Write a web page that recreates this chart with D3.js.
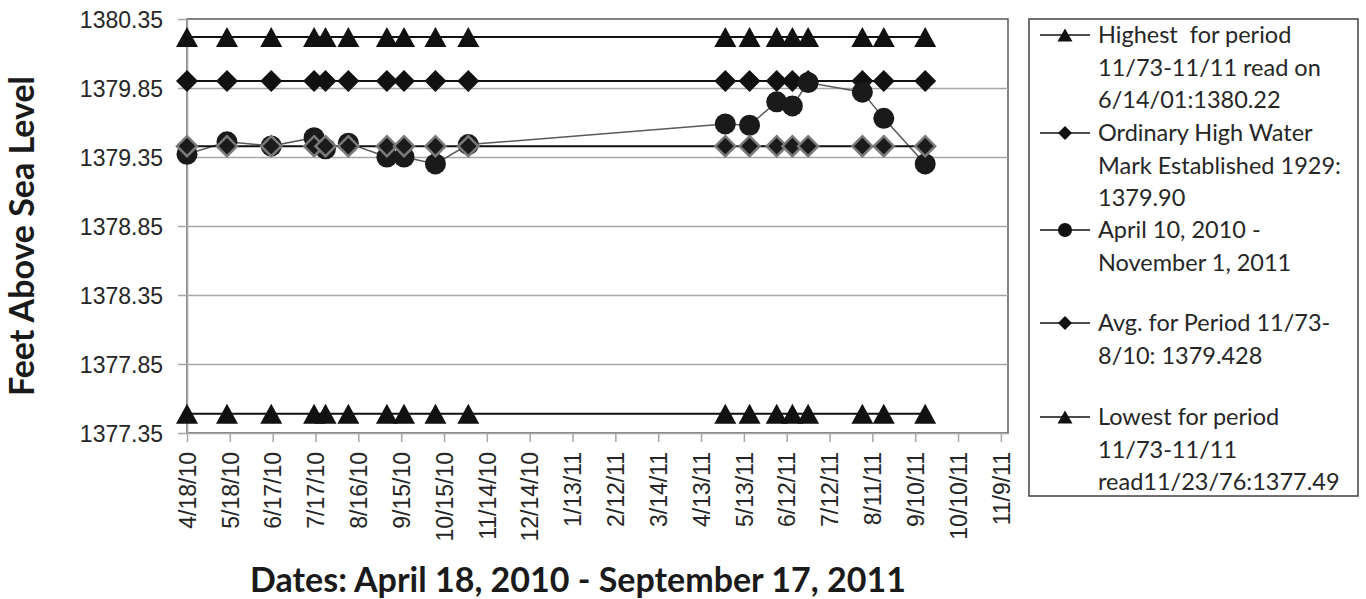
<!DOCTYPE html>
<html>
<head>
<meta charset="utf-8">
<script src="https://cdn.jsdelivr.net/npm/d3@7"></script>
<style>
  html, body { margin: 0; padding: 0; background: #fff; }
  svg { display: block; font-family: Lato, "Open Sans", sans-serif; }
  .tick text { fill: #262626; }
</style>
</head>
<body>
<div id="chart"></div>
<script>
// reading dates (M/D/YY) shared by every series
const readingDates = ['4/18/10', '5/16/10', '6/16/10', '7/16/10', '7/24/10', '8/9/10', '9/5/10', '9/17/10', '10/9/10', '11/1/10',
  '4/30/11', '5/17/11', '6/5/11', '6/16/11', '6/27/11', '8/4/11', '8/19/11', '9/17/11'];

const highest = [1380.22, 1380.22, 1380.22, 1380.22, 1380.22, 1380.22, 1380.22, 1380.22, 1380.22, 1380.22,
  1380.22, 1380.22, 1380.22, 1380.22, 1380.22, 1380.22, 1380.22, 1380.22];
const ordinaryHigh = [1379.90, 1379.90, 1379.90, 1379.90, 1379.90, 1379.90, 1379.90, 1379.90, 1379.90, 1379.90,
  1379.90, 1379.90, 1379.90, 1379.90, 1379.90, 1379.90, 1379.90, 1379.90];
const readings = [1379.37, 1379.46, 1379.43, 1379.49, 1379.41, 1379.45, 1379.35, 1379.35, 1379.30, 1379.44,
  1379.59, 1379.58, 1379.75, 1379.72, 1379.89, 1379.82, 1379.63, 1379.30];
const average = [1379.428, 1379.428, 1379.428, 1379.428, 1379.428, 1379.428, 1379.428, 1379.428, 1379.428, 1379.428,
  1379.428, 1379.428, 1379.428, 1379.428, 1379.428, 1379.428, 1379.428, 1379.428];
const lowest = [1377.49, 1377.49, 1377.49, 1377.49, 1377.49, 1377.49, 1377.49, 1377.49, 1377.49, 1377.49,
  1377.49, 1377.49, 1377.49, 1377.49, 1377.49, 1377.49, 1377.49, 1377.49];

// axis ticks
const xTickLabels = ['4/18/10', '5/18/10', '6/17/10', '7/17/10', '8/16/10', '9/15/10', '10/15/10', '11/14/10', '12/14/10', '1/13/11',
  '2/12/11', '3/14/11', '4/13/11', '5/13/11', '6/12/11', '7/12/11', '8/11/11', '9/10/11', '10/10/11', '11/9/11'];
const xDomainLabels = ['4/18/10', '11/14/11'];
const yTickValues = [1377.35, 1377.85, 1378.35, 1378.85, 1379.35, 1379.85, 1380.35];

const legendLabels = [
  ['Highest  for period', '11/73-11/11 read on', '6/14/01:1380.22'],
  ['Ordinary High Water', 'Mark Established 1929:', '1379.90'],
  ['April 10, 2010 -', 'November 1, 2011'],
  ['Avg. for Period 11/73-', '8/10: 1379.428'],
  ['Lowest for period', '11/73-11/11', 'read11/23/76:1377.49'],
];

const parseDate = d3.timeParse('%m/%d/%y');

function triPath(w, h) {
  return `M0,${-h / 2}L${w / 2},${h / 2}L${-w / 2},${h / 2}Z`;
}
function diamondPath(r) {
  return `M0,${-r}L${r},0L0,${r}L${-r},0Z`;
}

const seriesList = [
  { values: highest, marker: 'tri', line: '#111', lineWidth: 2, fill: '#111', stroke: 'none' },
  { values: ordinaryHigh, marker: 'diamond', line: '#111', lineWidth: 2, fill: '#111', stroke: 'none' },
  { values: readings, marker: 'circle', line: '#595959', lineWidth: 1.5, fill: '#1a1a1a', stroke: 'none' },
  { values: average, marker: 'avg', line: '#111', lineWidth: 2, fill: '#1a1a1a', stroke: '#7a7a7a' },
  { values: lowest, marker: 'tri', line: '#111', lineWidth: 2, fill: '#111', stroke: 'none' },
];

function drawMarker(sel, kind, big) {
  if (kind === 'circle') {
    sel.append('circle').attr('r', big ? 10.5 : 7);
  } else if (kind === 'tri') {
    sel.append('path').attr('d', big ? triPath(22, 20) : triPath(15, 13));
  } else if (kind === 'diamond') {
    sel.append('path').attr('d', diamondPath(big ? 11 : 7));
  } else {
    sel.append('path').attr('d', diamondPath(big ? 10 : 7));
  }
}

function createChart() {
  const width = 1366;
  const height = 599;
  const plot = { left: 187, right: 1008, top: 19, bottom: 433 };

  const svg = d3.select('#chart').append('svg')
    .attr('width', width)
    .attr('height', height);

  const xScale = d3.scaleTime()
    .domain(xDomainLabels.map(parseDate))
    .range([plot.left, plot.right]);

  const yScale = d3.scaleLinear()
    .domain([yTickValues[0], yTickValues[yTickValues.length - 1]])
    .range([plot.bottom, plot.top]);

  // plot frame
  svg.append('rect')
    .attr('x', plot.left).attr('y', plot.top)
    .attr('width', plot.right - plot.left).attr('height', plot.bottom - plot.top)
    .attr('fill', 'none').attr('stroke', '#595959').attr('stroke-width', 1.5);

  // gridlines
  const grid = svg.append('g').attr('transform', `translate(${plot.left},0)`)
    .call(d3.axisLeft(yScale).tickValues(yTickValues.slice(1, -1)).tickFormat('').tickSize(-(plot.right - plot.left)));
  grid.select('.domain').remove();
  grid.selectAll('line').attr('stroke', '#a6a6a6').attr('stroke-width', 1.5);

  // y axis
  const yAxis = svg.append('g').attr('transform', `translate(${plot.left},0)`)
    .call(d3.axisLeft(yScale).tickValues(yTickValues).tickFormat(d3.format('.2f')).tickSize(9).tickSizeOuter(0).tickPadding(15));
  yAxis.select('.domain').attr('stroke', '#a6a6a6').attr('stroke-width', 1.5);
  yAxis.selectAll('line').attr('stroke', '#a6a6a6').attr('stroke-width', 1.5);
  yAxis.selectAll('text').style('font-size', '23px').attr('dy', '0.36em');

  // x axis
  const xAxis = svg.append('g').attr('transform', `translate(0,${plot.bottom})`)
    .call(d3.axisBottom(xScale).tickValues(xTickLabels.map(parseDate)).tickFormat(d3.timeFormat('%-m/%-d/%y')).tickSize(9).tickSizeOuter(0));
  xAxis.select('.domain').attr('stroke', '#a6a6a6').attr('stroke-width', 1.5);
  xAxis.selectAll('line').attr('stroke', '#a6a6a6').attr('stroke-width', 1.5);
  xAxis.selectAll('text')
    .style('font-size', '23px')
    .style('text-anchor', 'end')
    .attr('transform', 'rotate(-90)')
    .attr('x', -19)
    .attr('y', 0)
    .attr('dy', '0.36em');

  // series
  const dates = readingDates.map(parseDate);
  seriesList.forEach((s) => {
    const pts = dates.map((d, i) => [xScale(d), yScale(s.values[i])]);
    const g = svg.append('g');
    g.append('path')
      .attr('d', d3.line()(pts))
      .attr('fill', 'none')
      .attr('stroke', s.line)
      .attr('stroke-width', s.lineWidth);
    const marks = g.selectAll('g.mark')
      .data(pts)
      .join('g')
      .attr('class', 'mark')
      .attr('transform', (p) => `translate(${p[0]},${p[1]})`)
      .attr('fill', s.fill)
      .attr('stroke', s.stroke)
      .attr('stroke-width', 2.5);
    drawMarker(marks, s.marker, true);
  });

  // axis titles
  svg.append('text')
    .attr('transform', `translate(34,236) rotate(-90)`)
    .attr('text-anchor', 'middle')
    .style('font-size', '34px')
    .style('font-weight', 'bold')
    .attr('fill', '#1a1a1a')
    .text('Feet Above Sea Level');

  svg.append('text')
    .attr('x', 578)
    .attr('y', 592)
    .attr('text-anchor', 'middle')
    .style('font-size', '34px')
    .style('font-weight', 'bold')
    .attr('fill', '#1a1a1a')
    .text('Dates: April 18, 2010 - September 17, 2011');

  // legend
  const legend = svg.append('g');
  legend.append('rect')
    .attr('x', 1029).attr('y', 19)
    .attr('width', 329).attr('height', 477)
    .attr('fill', '#fff').attr('stroke', '#404040').attr('stroke-width', 1.5);

  const entryTops = [35, 133, 230, 323, 417];
  const lineHeight = 32.5;
  legendLabels.forEach((lines, i) => {
    const y0 = entryTops[i];
    const item = legend.append('g');
    item.append('line')
      .attr('x1', 1040).attr('x2', 1090)
      .attr('y1', y0).attr('y2', y0)
      .attr('stroke', '#111').attr('stroke-width', 1.3);
    const m = item.append('g')
      .attr('transform', `translate(1065,${y0})`)
      .attr('fill', '#111');
    drawMarker(m, seriesList[i].marker, false);
    lines.forEach((t, j) => {
      item.append('text')
        .attr('x', 1098)
        .attr('y', y0 + j * lineHeight)
        .attr('dy', '0.36em')
        .style('font-size', '23.5px')
        .attr('fill', '#262626')
        .style('white-space', 'pre')
        .text(t);
    });
  });
}

createChart();
</script>
</body>
</html>
